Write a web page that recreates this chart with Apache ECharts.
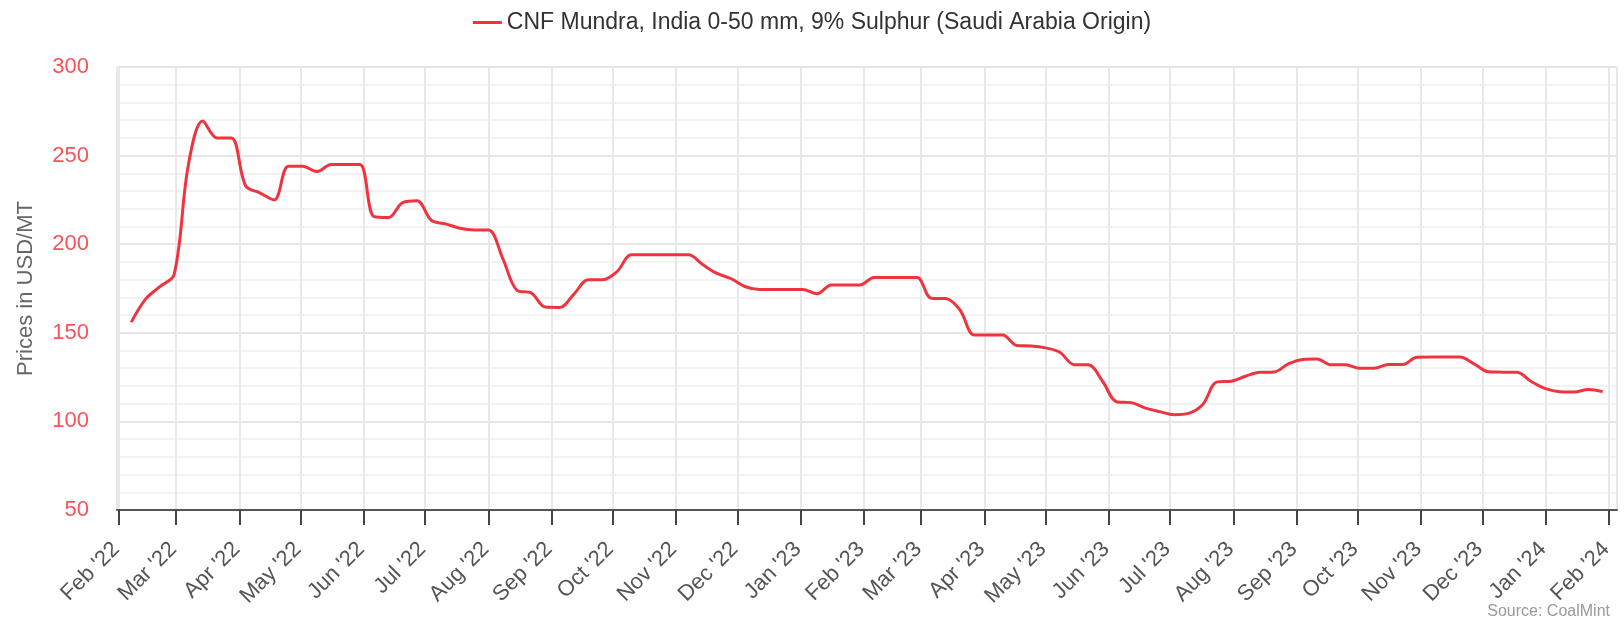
<!DOCTYPE html>
<html>
<head>
<meta charset="utf-8">
<script src="https://cdn.jsdelivr.net/npm/echarts@6/dist/echarts.min.js"></script>
<style>
html,body{margin:0;padding:0;background:#fff;}
#chart{width:1624px;height:625px;}
</style>
</head>
<body>
<div id="chart"></div>
<script>
const seriesName = "CNF Mundra, India 0-50 mm, 9% Sulphur (Saudi Arabia Origin)";
const dates = [
"2022-02-07","2022-02-14","2022-02-21","2022-02-28",
"2022-03-07","2022-03-14","2022-03-21","2022-03-28",
"2022-04-04","2022-04-11","2022-04-18","2022-04-25",
"2022-05-02","2022-05-09","2022-05-16","2022-05-23","2022-05-30",
"2022-06-06","2022-06-13","2022-06-20","2022-06-27",
"2022-07-04","2022-07-11","2022-07-18","2022-07-25",
"2022-08-01","2022-08-08","2022-08-15","2022-08-22","2022-08-29",
"2022-09-05","2022-09-12","2022-09-19","2022-09-26",
"2022-10-03","2022-10-10","2022-10-17","2022-10-24","2022-10-31",
"2022-11-07","2022-11-14","2022-11-21","2022-11-28",
"2022-12-05","2022-12-12","2022-12-19","2022-12-26",
"2023-01-02","2023-01-09","2023-01-16","2023-01-23","2023-01-30",
"2023-02-06","2023-02-13","2023-02-20","2023-02-27",
"2023-03-06","2023-03-13","2023-03-20","2023-03-27",
"2023-04-03","2023-04-10","2023-04-17","2023-04-24",
"2023-05-01","2023-05-08","2023-05-15","2023-05-22","2023-05-29",
"2023-06-05","2023-06-12","2023-06-19","2023-06-26",
"2023-07-03","2023-07-10","2023-07-17","2023-07-24","2023-07-31",
"2023-08-07","2023-08-14","2023-08-21","2023-08-28",
"2023-09-04","2023-09-11","2023-09-18","2023-09-25",
"2023-10-02","2023-10-09","2023-10-16","2023-10-23","2023-10-30",
"2023-11-06","2023-11-13","2023-11-20","2023-11-27",
"2023-12-04","2023-12-11","2023-12-18","2023-12-25",
"2024-01-01","2024-01-08","2024-01-15","2024-01-22","2024-01-29"
];
const prices = [
156,169,176,183,
245,269.5,260,260,
233,229,225,244,
244,241,245,245,245,
215.5,215,223.5,224.5,
213.5,211.5,209,208,
208,192,174,172.5,164.5,
164.3,172,180,180,
184.5,194,194,194,194,
194,188.5,183.5,180.5,
176,174.5,174.5,174.5,
174.5,172,177,177,177,
181.2,181.2,181.2,181.2,
169.5,169.3,163,148.8,
148.7,148.7,142.8,142.6,
141.5,139,132,131.9,122.5,
111,110.6,107.5,105.5,
103.8,104.5,109.5,122.3,122.7,
125.5,127.7,127.9,132.5,
135,135.2,131.9,131.9,
130,130,132.1,132.1,136.2,
136.3,136.3,136.3,132.5,
128,127.8,127.7,122.5,
118.5,116.8,116.6,118,116.8
];
const yTicks = {min: 50, max: 300, step: 50};
const xRange = {min: "2022-01-31", max: "2024-02-05"};
const sourceText = "Source: CoalMint";
const yTitle = "Prices in USD/MT";

const FONT = "'Liberation Sans', Arial, sans-serif";
const data = dates.map((d, i) => [d, prices[i]]);
const chart = echarts.init(document.getElementById('chart'), null, {renderer: 'canvas'});
chart.setOption({
  animation: false,
  backgroundColor: '#ffffff',
  textStyle: {fontFamily: FONT},
  title: {
    text: sourceText, right: 9, bottom: 0,
    textStyle: {fontSize: 16, color: '#999999', fontWeight: 'normal', fontFamily: FONT}
  },
  legend: {
    top: 6, left: 'center',
    icon: 'rect', itemWidth: 29, itemHeight: 3, itemGap: 10,
    textStyle: {fontSize: 23, color: '#333333', fontFamily: FONT},
    data: [seriesName]
  },
  grid: {left: 117, right: 7, top: 67, bottom: 115, containLabel: false},
  xAxis: {
    type: 'time',
    min: xRange.min, max: xRange.max,
    minInterval: 28 * 86400000, maxInterval: 31 * 86400000,
    axisLine: {show: true, lineStyle: {color: '#555555', width: 2}},
    axisTick: {show: true, length: 15, lineStyle: {color: '#444444', width: 2}},
    axisLabel: {
      rotate: 45, fontSize: 22, color: '#555555', margin: 33, fontFamily: FONT,
      padding: [0, 4, 0, 0],
      formatter: "{MMM} '{yy}", hideOverlap: false
    },
    splitLine: {show: true, lineStyle: {color: '#e8e8e8', width: 2}}
  },
  yAxis: {
    type: 'value', min: yTicks.min, max: yTicks.max, interval: yTicks.step,
    name: yTitle, nameLocation: 'middle', nameGap: 80,
    nameTextStyle: {fontSize: 22, color: '#666666', fontFamily: FONT},
    axisLine: {show: false}, axisTick: {show: false},
    axisLabel: {fontSize: 22, color: '#f9525a', margin: 28, fontFamily: FONT},
    splitLine: {show: true, lineStyle: {color: '#e6e6e6', width: 2}},
    minorTick: {show: false, splitNumber: 5},
    minorSplitLine: {show: true, lineStyle: {color: '#f2f2f2', width: 2}}
  },
  series: [{
    name: seriesName, type: 'line', data: data,
    smooth: 0.35, showSymbol: false, symbol: 'none',
    lineStyle: {color: '#f0343f', width: 3},
    itemStyle: {color: '#f0343f'}
  }]
});
</script>
</body>
</html>
